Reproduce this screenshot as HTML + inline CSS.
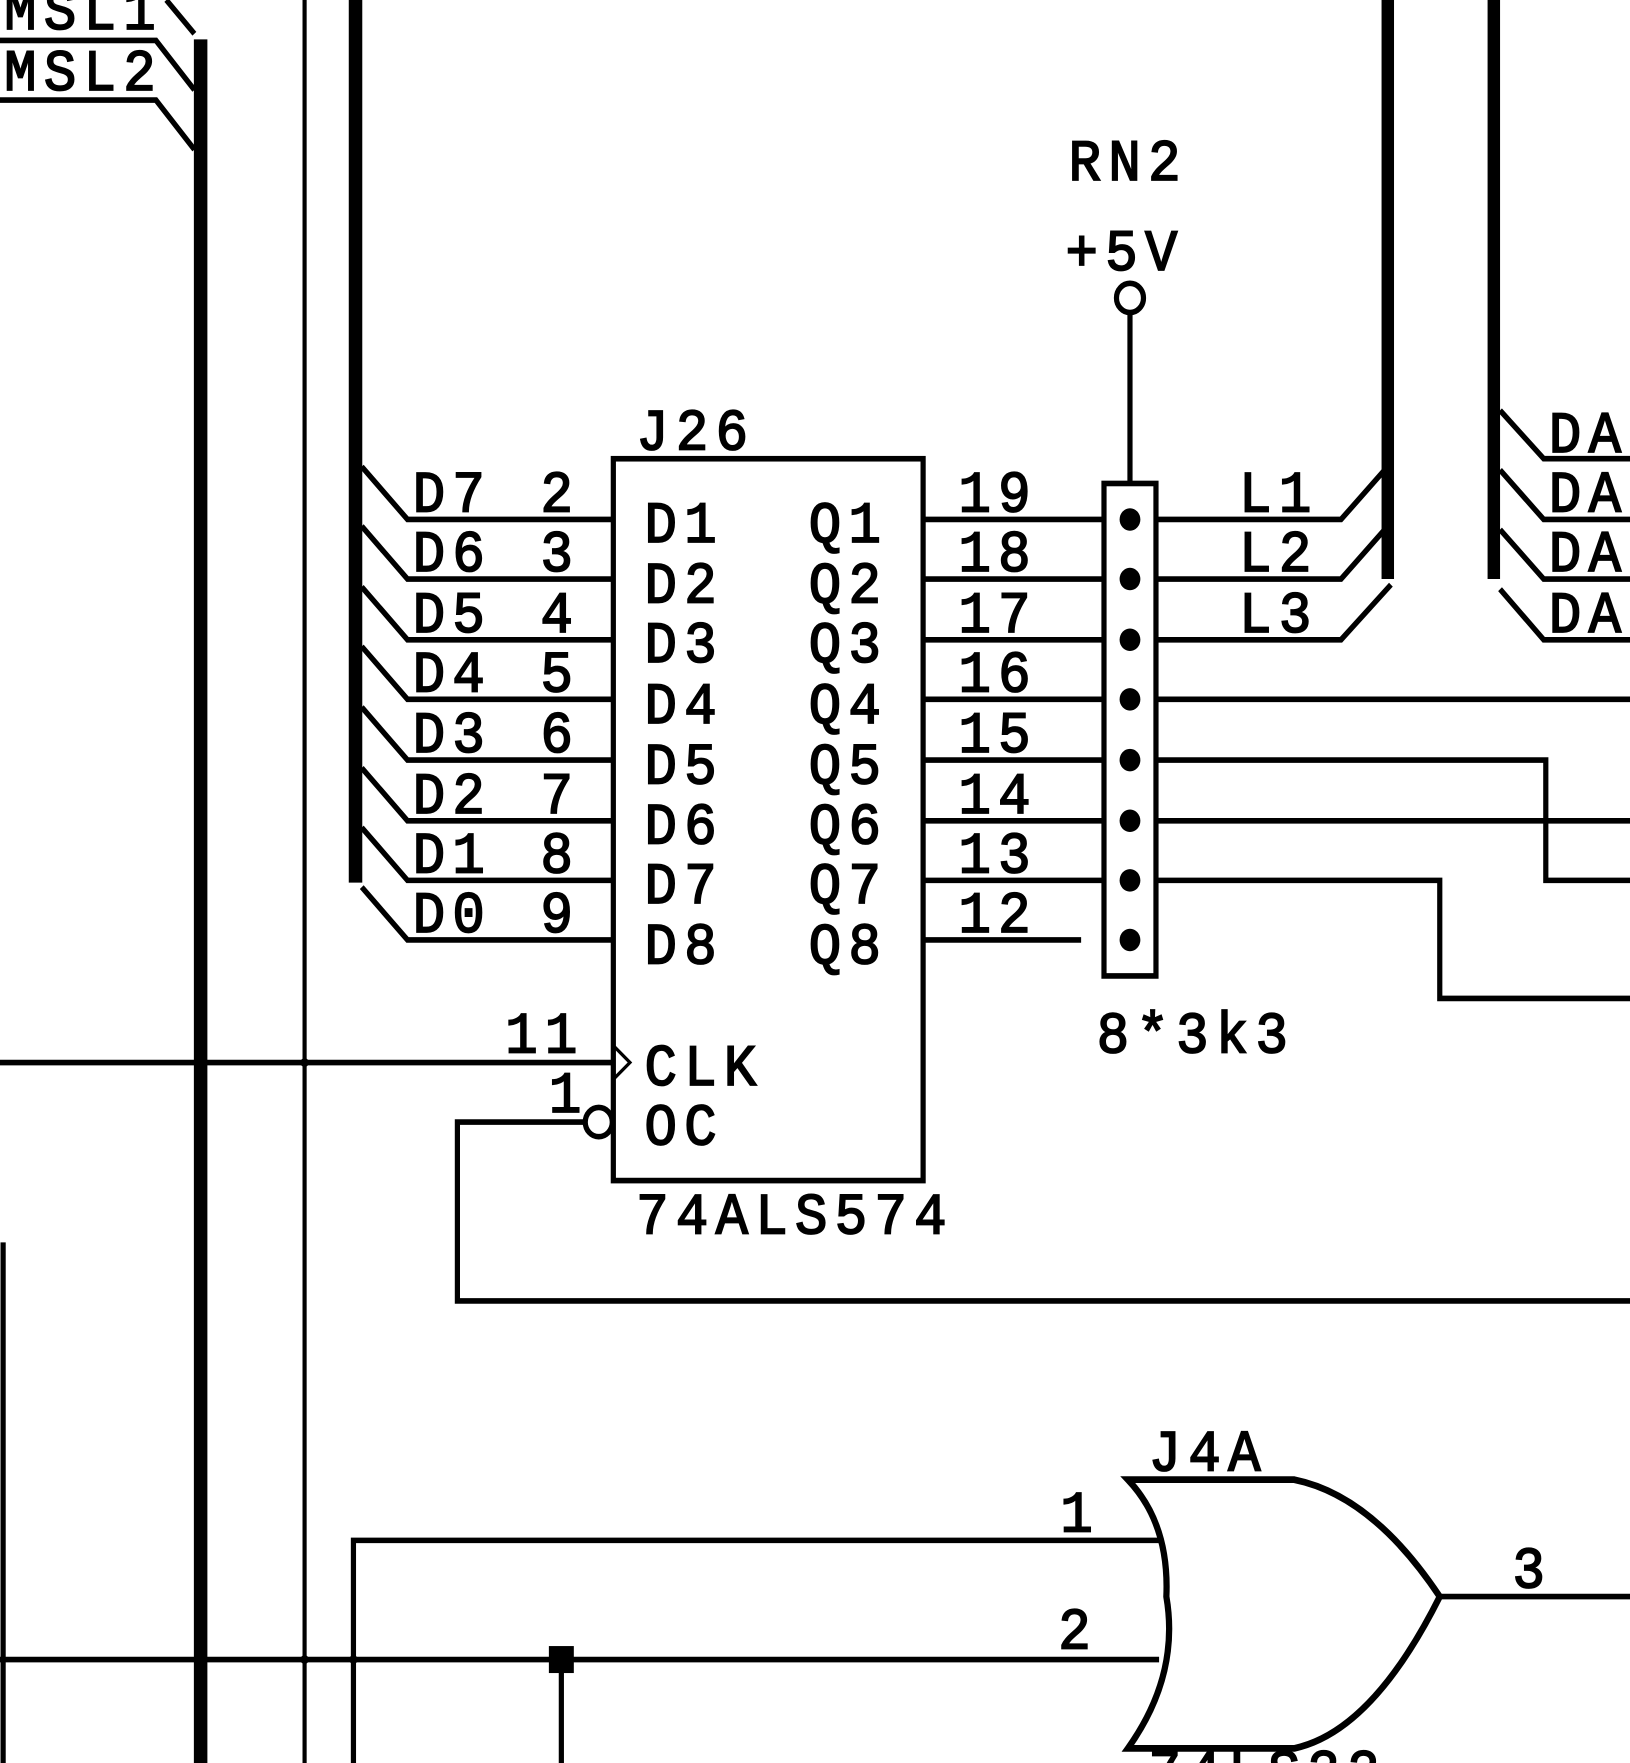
<!DOCTYPE html>
<html><head><meta charset="utf-8"><style>
html,body{margin:0;padding:0;background:#fff;}
svg{display:block;}
text{font-family:"Liberation Mono",monospace;font-size:52px;letter-spacing:7px;fill:#000;stroke:#000;stroke-width:1.6px;}
</style></head><body>
<svg width="1630" height="1763" viewBox="0 0 1568 1568" preserveAspectRatio="none" xmlns="http://www.w3.org/2000/svg">
<rect width="1568" height="1568" fill="#fff"/>
<g stroke="#000" fill="none" stroke-width="5">
<line x1="193" y1="35" x2="193" y2="1568" stroke-width="13"/>
<line x1="342" y1="0" x2="342" y2="785" stroke-width="13"/>
<line x1="1335" y1="0" x2="1335" y2="515" stroke-width="12"/>
<line x1="1437" y1="0" x2="1437" y2="515" stroke-width="12"/>
<line x1="293" y1="0" x2="293" y2="1568" stroke-width="4"/>
<line x1="3" y1="1105" x2="3" y2="1568"/>
<polyline points="0,36 150,36 187,80"/>
<polyline points="0,89 150,89 187,133"/>
<line x1="160" y1="0" x2="187" y2="30"/>
<polyline points="348,415 392,462 590,462"/>
<polyline points="348,468 392,515 590,515"/>
<polyline points="348,522 392,569 590,569"/>
<polyline points="348,575 392,622 590,622"/>
<polyline points="348,629 392,676 590,676"/>
<polyline points="348,683 392,730 590,730"/>
<polyline points="348,736 392,783 590,783"/>
<polyline points="348,789 392,836 590,836"/>
<rect x="590" y="408" width="298" height="642"/>
<polyline points="590,930 606,945 590,960" stroke-width="3"/>
<circle cx="576" cy="998" r="13"/>
<line x1="0" y1="945" x2="590" y2="945"/>
<polyline points="563,998 440,998 440,1157 1568,1157"/>
<line x1="888" y1="462" x2="1062" y2="462"/>
<line x1="888" y1="515" x2="1062" y2="515"/>
<line x1="888" y1="569" x2="1062" y2="569"/>
<line x1="888" y1="622" x2="1062" y2="622"/>
<line x1="888" y1="676" x2="1062" y2="676"/>
<line x1="888" y1="730" x2="1062" y2="730"/>
<line x1="888" y1="783" x2="1062" y2="783"/>
<line x1="888" y1="836" x2="1040" y2="836"/>
<rect x="1062" y="430" width="50" height="438"/>
<circle cx="1087" cy="265" r="13"/>
<line x1="1087" y1="278" x2="1087" y2="430"/>
<polyline points="1112,462 1290,462 1332,418"/>
<polyline points="1112,515 1290,515 1332,471"/>
<polyline points="1112,569 1290,569 1338,520"/>
<line x1="1112" y1="622" x2="1568" y2="622"/>
<polyline points="1112,676 1487,676 1487,783 1568,783"/>
<line x1="1112" y1="730" x2="1568" y2="730"/>
<polyline points="1112,783 1385,783 1385,888 1568,888"/>
<polyline points="1443,365 1485,408 1568,408"/>
<polyline points="1443,418 1485,462 1568,462"/>
<polyline points="1443,471 1485,515 1568,515"/>
<polyline points="1443,524 1485,569 1568,569"/>
<path d="M1085,1316 L1245,1316 Q1320,1330 1385,1420 Q1320,1540 1245,1555 L1085,1555 Q1135,1490 1122,1420 Q1125,1355 1085,1316 Z" stroke-width="6"/>
<line x1="1385" y1="1420" x2="1568" y2="1420"/>
<polyline points="340,1568 340,1370 1115,1370"/>
<line x1="0" y1="1476" x2="1115" y2="1476"/>
<line x1="540" y1="1476" x2="540" y2="1568"/>
</g>
<g fill="#000">
<circle cx="1087" cy="462" r="10"/><circle cx="1087" cy="515" r="10"/><circle cx="1087" cy="569" r="10"/><circle cx="1087" cy="622" r="10"/>
<circle cx="1087" cy="676" r="10"/><circle cx="1087" cy="730" r="10"/><circle cx="1087" cy="783" r="10"/><circle cx="1087" cy="836" r="10"/>
<rect x="528" y="1464" width="24" height="24"/>
<circle cx="193" cy="945" r="4"/><circle cx="293" cy="945" r="4"/><circle cx="193" cy="1476" r="4"/><circle cx="293" cy="1476" r="4"/><circle cx="340" cy="1476" r="4"/>
</g>
<text x="4" y="26">MSL1</text>
<text x="4" y="80">MSL2</text>
<text x="1028" y="160">RN2</text>
<text x="1025" y="240">+5V</text>
<text x="612" y="400">J26</text>
<g>
<text x="397" y="455">D7</text><text x="520" y="455">2</text>
<text x="397" y="508">D6</text><text x="520" y="508">3</text>
<text x="397" y="562">D5</text><text x="520" y="562">4</text>
<text x="397" y="615">D4</text><text x="520" y="615">5</text>
<text x="397" y="669">D3</text><text x="520" y="669">6</text>
<text x="397" y="723">D2</text><text x="520" y="723">7</text>
<text x="397" y="776">D1</text><text x="520" y="776">8</text>
<text x="397" y="829">D0</text><text x="520" y="829">9</text>
</g>
<g>
<text x="620" y="482">D1</text><text x="778" y="482">Q1</text>
<text x="620" y="536">D2</text><text x="778" y="536">Q2</text>
<text x="620" y="589">D3</text><text x="778" y="589">Q3</text>
<text x="620" y="643">D4</text><text x="778" y="643">Q4</text>
<text x="620" y="697">D5</text><text x="778" y="697">Q5</text>
<text x="620" y="750">D6</text><text x="778" y="750">Q6</text>
<text x="620" y="803">D7</text><text x="778" y="803">Q7</text>
<text x="620" y="857">D8</text><text x="778" y="857">Q8</text>
</g>
<g>
<text x="922" y="455">19</text><text x="922" y="508">18</text><text x="922" y="562">17</text><text x="922" y="615">16</text>
<text x="922" y="669">15</text><text x="922" y="723">14</text><text x="922" y="776">13</text><text x="922" y="829">12</text>
</g>
<text x="1192" y="455">L1</text>
<text x="1192" y="508">L2</text>
<text x="1192" y="562">L3</text>
<text x="1490" y="402">DA</text><text x="1490" y="455">DA</text><text x="1490" y="508">DA</text><text x="1490" y="562">DA</text>
<text x="486" y="936">11</text>
<text x="528" y="989">1</text>
<text x="620" y="965">CLK</text>
<text x="620" y="1018">OC</text>
<text x="612" y="1097">74ALS574</text>
<text x="1055" y="936">8*3k3</text>
<text x="1105" y="1308">J4A</text>
<text x="1020" y="1362">1</text>
<text x="1018" y="1466">2</text>
<text x="1455" y="1412">3</text>
<text x="1105" y="1592">74LS32</text>
</svg>
</body></html>
